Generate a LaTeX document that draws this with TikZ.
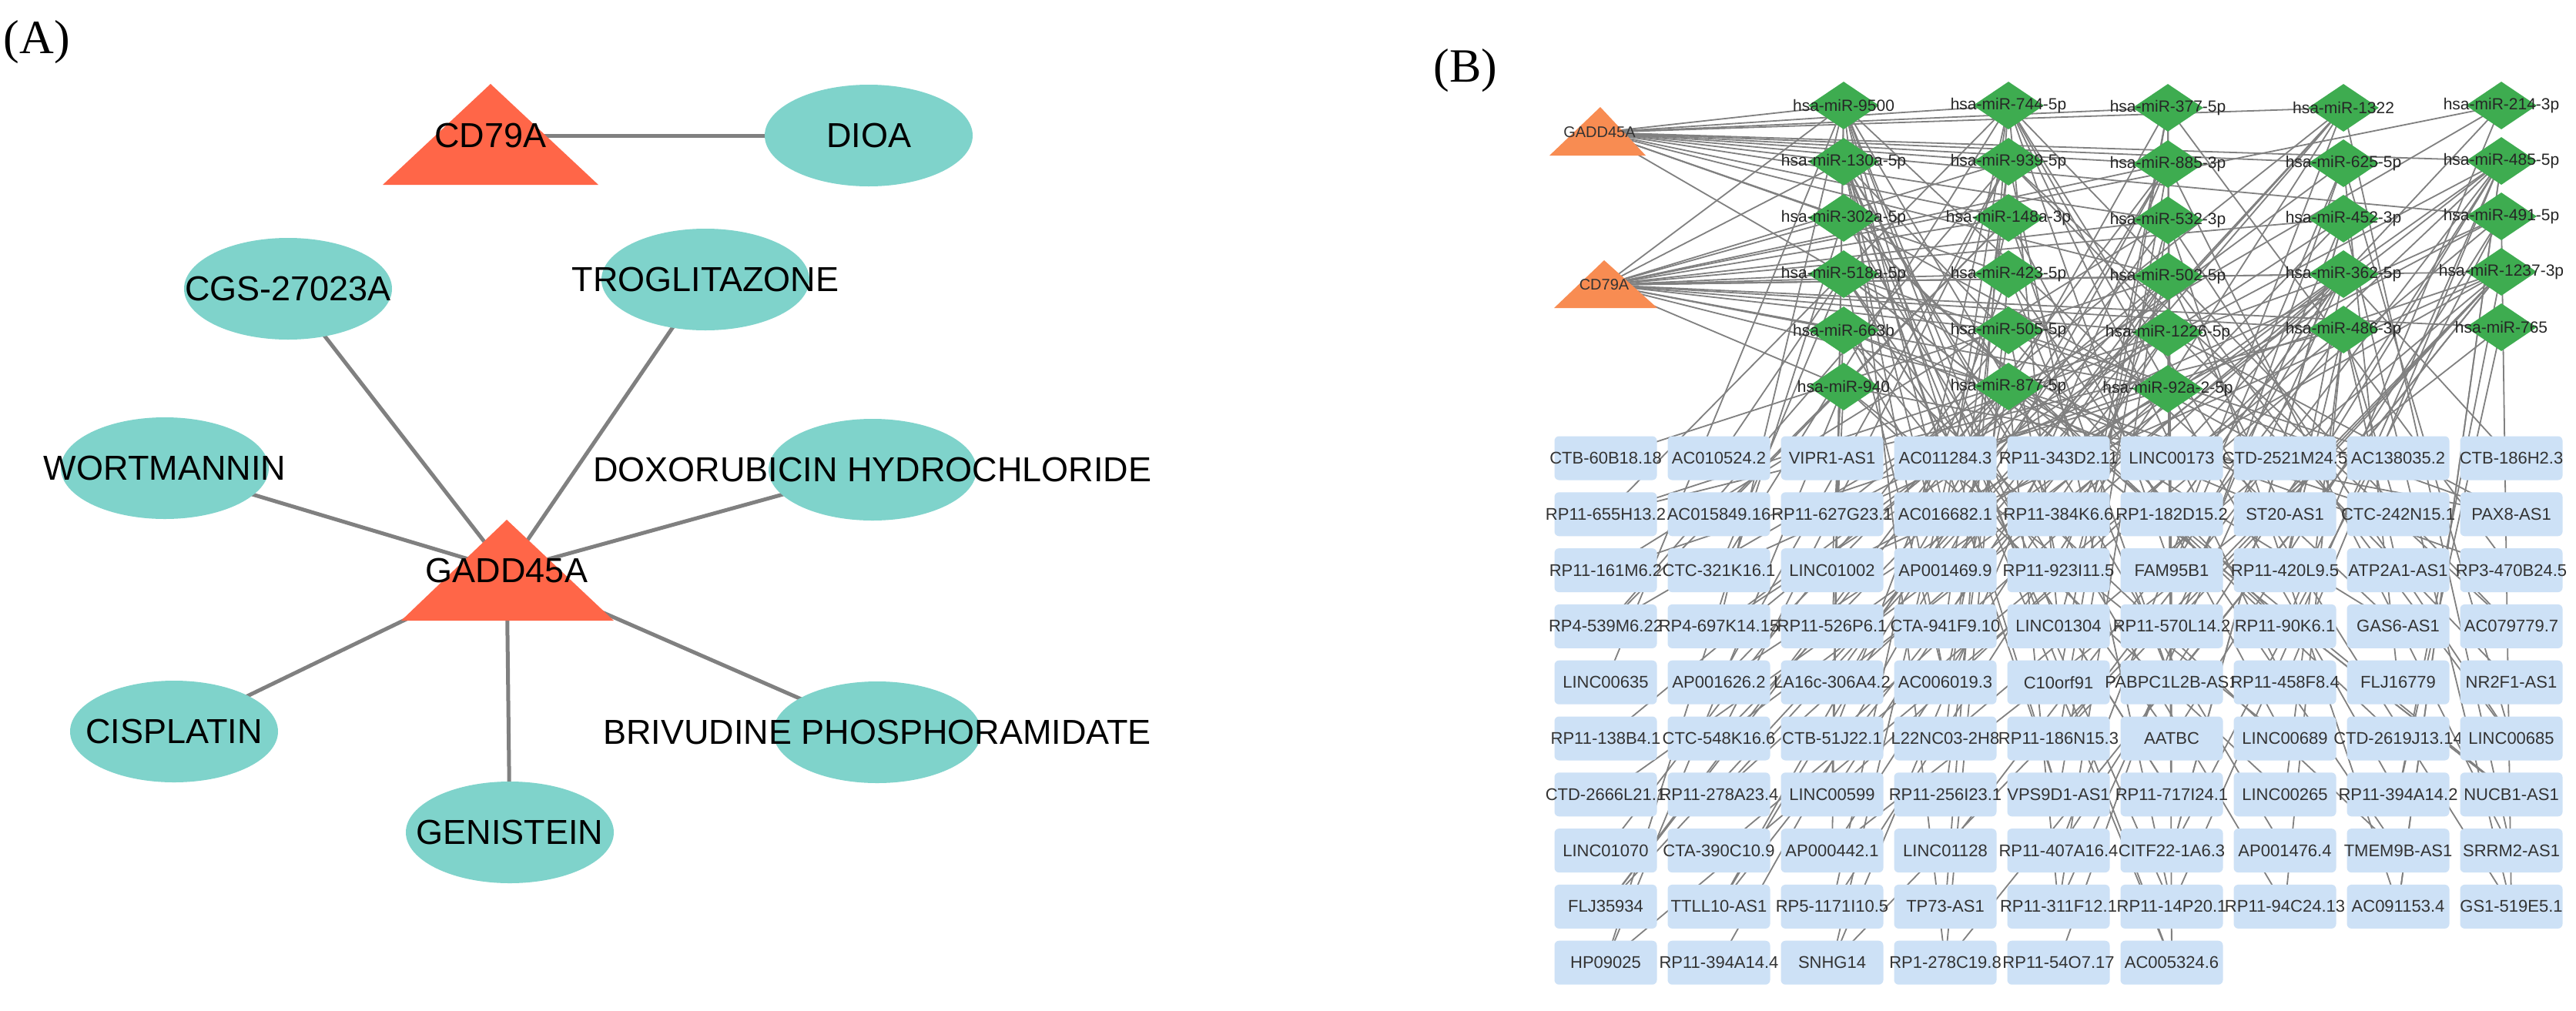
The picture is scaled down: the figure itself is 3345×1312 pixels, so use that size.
\documentclass[tikz,border=0pt]{standalone}
\usepackage{fontspec}
\setmainfont{Liberation Sans}
\newfontfamily\panelserif{Liberation Serif}
\usetikzlibrary{shapes.geometric}
\definecolor{drugc}{RGB}{127,211,203}
\definecolor{triA}{RGB}{255,102,72}
\definecolor{triB}{RGB}{248,140,82}
\definecolor{mirc}{RGB}{62,172,80}
\definecolor{boxc}{RGB}{205,225,246}
\definecolor{edgec}{RGB}{128,128,128}
\pgfdeclarelayer{bg}
\pgfsetlayers{bg,main}
\begin{document}
\begin{tikzpicture}[x=1pt,y=-1pt,
  drug/.style={ellipse,fill=drugc,minimum width=270,minimum height=132,inner sep=0},
  dlab/.style={font=\fontsize{45}{45}\selectfont,text=black},
  ttext/.style={font=\fontsize{45}{45}\selectfont,inner sep=0},
  aedge/.style={draw=edgec,line width=5},
  mir/.style={diamond,fill=mirc,minimum width=92,minimum height=62,inner sep=0},
  mlab/.style={font=\fontsize{21}{21}\selectfont,text=black!85},
  lnc/.style={rectangle,rounded corners=6,fill=boxc,minimum width=133,minimum height=57,inner sep=0},
  blab/.style={font=\fontsize{22}{22}\selectfont,text=black!80},
  bedge/.style={draw=edgec,line width=1.8},
  btext/.style={font=\fontsize{20}{20}\selectfont,inner sep=0,text=black!80},
  panel/.style={font=\panelserif\fontsize{62}{62}\selectfont,inner sep=0}]
\useasboundingbox (0,0) rectangle (3345,1312);
\begin{pgfonlayer}{bg}
\fill[white] (0,0) rectangle (3345,1312);
\end{pgfonlayer}

% ---------- Panel A ----------
\node[panel] (pa) at (48,55) {(A)};
\fill[triA] (497,240) -- (637,109) -- (777,240) -- cycle;
\node[ttext] (cd) at (637,176) {CD79A};
\fill[triA] (521,806) -- (658,675) -- (797,806) -- cycle;
\node[ttext] (ga) at (658,741) {GADD45A};
\node[drug,label={[dlab]center:DIOA}] (dioa) at (1128,176) {};
\node[drug,label={[dlab]center:CGS-27023A}] (cgs) at (374,375) {};
\node[drug,label={[dlab]center:TROGLITAZONE}] (trog) at (916,363) {};
\node[drug,label={[dlab]center:WORTMANNIN}] (wort) at (214,608) {};
\node[drug,label={[dlab]center:DOXORUBICIN HYDROCHLORIDE}] (doxo) at (1133,610) {};
\node[drug,label={[dlab]center:CISPLATIN}] (cis) at (226,950) {};
\node[drug,label={[dlab]center:GENISTEIN}] (gen) at (662,1081) {};
\node[drug,label={[dlab]center:BRIVUDINE PHOSPHORAMIDATE}] (briv) at (1139,951) {};
\begin{pgfonlayer}{bg}
\draw[aedge] (cd.center) -- (dioa.center);
\foreach \d in {cgs,trog,wort,doxo,cis,gen,briv}
  \draw[aedge] (ga.center) -- (\d.center);
\end{pgfonlayer}

% ---------- Panel B ----------
\node[panel] (pb) at (1903,92) {(B)};
\fill[triB] (2012,202) -- (2078,139) -- (2137,202) -- cycle;
\node[btext] (bg) at (2077,172) {GADD45A};
\fill[triB] (2018,400) -- (2083,338) -- (2152,400) -- cycle;
\node[btext] (bc) at (2083,370) {CD79A};

\foreach \t [count=\i] in {9500,130a-5p,302a-5p,518a-5p,663b,940}
  \node[mir,label={[mlab]center:hsa-miR-\t}] (m\i) at (2394,{137+73*(\i-1)}) {};
\foreach \t [count=\i from 7] in {744-5p,939-5p,148a-3p,423-5p,505-5p,877-5p}
  \node[mir,label={[mlab]center:hsa-miR-\t}] (m\i) at (2608,{137+73*(\i-7)}) {};
\foreach \t [count=\i from 13] in {377-5p,885-3p,532-3p,502-5p,1226-5p,92a-2-5p}
  \node[mir,label={[mlab]center:hsa-miR-\t}] (m\i) at (2815,{140+73*(\i-13)}) {};
\foreach \t [count=\i from 19] in {1322,625-5p,452-3p,362-5p,486-3p}
  \node[mir,label={[mlab]center:hsa-miR-\t}] (m\i) at (3043,{140+72*(\i-19)}) {};
\foreach \t [count=\i from 24] in {214-3p,485-5p,491-5p,1237-3p,765}
  \node[mir,label={[mlab]center:hsa-miR-\t}] (m\i) at (3248,{137+72*(\i-24)}) {};

\foreach \c/\list in {
 1/{CTB-60B18.18,RP11-655H13.2,RP11-161M6.2,RP4-539M6.22,LINC00635,RP11-138B4.1,CTD-2666L21.1,LINC01070,FLJ35934,HP09025},
 2/{AC010524.2,AC015849.16,CTC-321K16.1,RP4-697K14.15,AP001626.2,CTC-548K16.6,RP11-278A23.4,CTA-390C10.9,TTLL10-AS1,RP11-394A14.4},
 3/{VIPR1-AS1,RP11-627G23.1,LINC01002,RP11-526P6.1,LA16c-306A4.2,CTB-51J22.1,LINC00599,AP000442.1,RP5-1171I10.5,SNHG14},
 4/{AC011284.3,AC016682.1,AP001469.9,CTA-941F9.10,AC006019.3,L22NC03-2H8,RP11-256I23.1,LINC01128,TP73-AS1,RP1-278C19.8},
 5/{RP11-343D2.11,RP11-384K6.6,RP11-923I11.5,LINC01304,C10orf91,RP11-186N15.3,VPS9D1-AS1,RP11-407A16.4,RP11-311F12.1,RP11-54O7.17},
 6/{LINC00173,RP1-182D15.2,FAM95B1,RP11-570L14.2,PABPC1L2B-AS1,AATBC,RP11-717I24.1,CITF22-1A6.3,RP11-14P20.1,AC005324.6},
 7/{CTD-2521M24.5,ST20-AS1,RP11-420L9.5,RP11-90K6.1,RP11-458F8.4,LINC00689,LINC00265,AP001476.4,RP11-94C24.13},
 8/{AC138035.2,CTC-242N15.1,ATP2A1-AS1,GAS6-AS1,FLJ16779,CTD-2619J13.14,RP11-394A14.2,TMEM9B-AS1,AC091153.4},
 9/{CTB-186H2.3,PAX8-AS1,RP3-470B24.5,AC079779.7,NR2F1-AS1,LINC00685,NUCB1-AS1,SRRM2-AS1,GS1-519E5.1}}
{
  \foreach \t [count=\r] in \list
    \node[lnc,label={[blab]center:\t}] (l-\c-\r) at ({2085+147*(\c-1)},{595+72.8*(\r-1)}) {};
}

\begin{pgfonlayer}{bg}
\foreach \m in {1,2,3,7,8,9,10,13,14,15,16,19,20,25,26,4}
  \draw[bedge] (bg.center) -- (m\m.center);
\foreach \m in {1,2,3,4,5,6,8,9,10,11,12,14,15,16,17,21,22,23,27,28,18,24}
  \draw[bedge] (bc.center) -- (m\m.center);
\pgfmathsetseed{11}
\foreach \c/\n in {1/10,2/10,3/10,4/10,5/10,6/10,7/9,8/9,9/9}{
  \foreach \r in {1,...,\n}{
    \pgfmathrandominteger{\k}{1}{3}
    \foreach \j in {1,...,\k}{
      \pgfmathrandominteger{\mm}{1}{28}
      \draw[bedge] (m\mm.center) -- (l-\c-\r.center);
    }
  }
}
\end{pgfonlayer}
\end{tikzpicture}
\end{document}
